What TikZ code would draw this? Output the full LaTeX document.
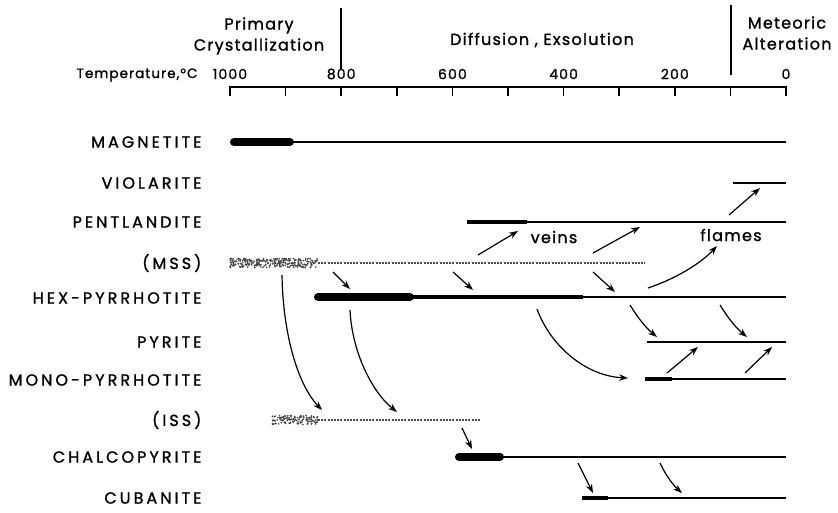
\documentclass[tikz,border=0pt]{standalone}
\usepackage{fontspec}
\setmainfont{Poppins}
\newfontfamily\capsfont{Poppins}[LetterSpace=19, FakeBold=1.2]
\newfontfamily\wordfont{Poppins}[LetterSpace=8, FakeBold=1.2]
\usetikzlibrary{arrows.meta}

\tikzset{
  thinbar/.style={line width=1.8pt},
  midbar/.style={line width=4.5pt},
  thickbar/.style={line width=8pt, line cap=round},
  dotbar/.style={line width=1.4pt, gray!60!black, dash pattern=on 2pt off 1.2pt},
  mover/.style={-{Stealth[length=9pt,width=6.5pt]}, line width=1.2pt},
  mineral/.style={anchor=east, font=\capsfont\fontsize{16}{16}\selectfont},
  head/.style={align=center, font=\wordfont\fontsize{16}{21}\selectfont},
  tlab/.style={font=\wordfont\fontsize{14}{14}\selectfont},
}

\begin{document}
\begin{tikzpicture}[x=1pt,y=-1pt]
\useasboundingbox (0,0) rectangle (838,513);

% temperature axis
\draw[line width=1.8pt] (230,87) -- (786,87);
\foreach \t in {0,100,...,1000}{
  \draw[line width=1.5pt] ({786-0.556*\t},86) -- ({786-0.556*\t},96);
}
\foreach \t in {0,200,...,1000}{
  \node[tlab] (t\t) at ({786-0.556*\t},74) {\t};
}
\node[anchor=east, font=\wordfont\fontsize{13.5}{14}\selectfont] (tname) at (201,75) {Temperature,°C};

% stages
\draw[line width=1.5pt] (341,8) -- (341,70);
\draw[line width=1.5pt] (731,5) -- (731,75);
\node[head] (primary) at (259,36) {Primary\\Crystallization};
\node[head] (diffusion) at (542,40) {Diffusion , Exsolution};
\node[head] (meteoric) at (787,33) {Meteoric\\Alteration};

% minerals
\node[mineral] (magnetite) at (205,142) {MAGNETITE};
\node[mineral] (violarite) at (205,183) {VIOLARITE};
\node[mineral] (pentlandite) at (205,222) {PENTLANDITE};
\node[mineral] (mss) at (205,263) {(MSS)};
\node[mineral] (hexpo) at (205,298) {HEX-PYRRHOTITE};
\node[mineral] (pyrite) at (205,342) {PYRITE};
\node[mineral] (monopo) at (205,380) {MONO-PYRRHOTITE};
\node[mineral] (iss) at (205,420) {(ISS)};
\node[mineral] (chalco) at (205,457) {CHALCOPYRITE};
\node[mineral] (cubanite) at (205,498) {CUBANITE};

% stability ranges
\draw[thickbar] (234,142) -- (290,142);
\draw[thinbar] (290,142) -- (786,142);
\draw[thinbar] (733,183) -- (786,183);
\draw[midbar] (467,222) -- (527,222);
\draw[thinbar] (527,222) -- (786,222);
\draw[thickbar] (318,297) -- (410,297);
\draw[midbar] (410,297) -- (583,297);
\draw[thinbar] (583,297) -- (786,297);
\draw[thinbar] (647,342) -- (786,342);
\draw[midbar] (645,379) -- (672,379);
\draw[thinbar] (672,379) -- (786,379);
\draw[thickbar] (459,457) -- (500,457);
\draw[thinbar] (500,457) -- (786,457);
\draw[midbar] (582,498) -- (608,498);
\draw[thinbar] (608,498) -- (786,498);

% solid solutions (stippled)
\pgfmathsetseed{11}
\foreach \i in {1,...,300}{
  \pgfmathsetmacro\dx{230+88*rnd}
  \pgfmathsetmacro\dy{263+9*(rnd-0.5)}
  \fill[gray!50!black] (\dx,\dy) circle (0.9pt);
}
\draw[dotbar] (318,263) -- (645,263);
\foreach \i in {1,...,130}{
  \pgfmathsetmacro\dx{272+46*rnd}
  \pgfmathsetmacro\dy{420+9*(rnd-0.5)}
  \fill[gray!50!black] (\dx,\dy) circle (0.9pt);
}
\draw[dotbar] (318,420) -- (480,420);

% reaction arrows
\coordinate (v1a) at (478,255); \coordinate (v1b) at (518,231);
\coordinate (v2a) at (593,253); \coordinate (v2b) at (640,227);
\coordinate (vla) at (729,215); \coordinate (vlb) at (760,188);
\coordinate (fla) at (648,288); \coordinate (flb) at (717,246);
\coordinate (h1a) at (333,272); \coordinate (h1b) at (350,289);
\coordinate (h2a) at (453,272); \coordinate (h2b) at (473,290);
\coordinate (h3a) at (593,272); \coordinate (h3b) at (615,292);
\coordinate (p1a) at (630,305); \coordinate (p1b) at (657,337);
\coordinate (p2a) at (720,305); \coordinate (p2b) at (747,337);
\coordinate (q1a) at (667,373); \coordinate (q1b) at (698,347);
\coordinate (q2a) at (745,373); \coordinate (q2b) at (772,347);
\coordinate (mpa) at (537,309); \coordinate (mpb) at (628,378);
\coordinate (i1a) at (282,275); \coordinate (i1b) at (322,410);
\coordinate (i2a) at (350,310); \coordinate (i2b) at (397,412);
\coordinate (cpa) at (462,428); \coordinate (cpb) at (472,449);
\coordinate (c1a) at (578,463); \coordinate (c1b) at (593,493);
\coordinate (c2a) at (660,463); \coordinate (c2b) at (682,493);

\draw[mover] (v1a) -- (v1b);
\draw[mover] (v2a) -- (v2b);
\draw[mover] (vla) -- (vlb);
\draw[mover] (fla) .. controls (675,279) and (700,264) .. (flb);
\draw[mover] (h1a) -- (h1b);
\draw[mover] (h2a) -- (h2b);
\draw[mover] (h3a) -- (h3b);
\draw[mover] (p1a) .. controls (638,318) and (646,328) .. (p1b);
\draw[mover] (p2a) .. controls (728,318) and (736,328) .. (p2b);
\draw[mover] (q1a) -- (q1b);
\draw[mover] (q2a) -- (q2b);
\draw[mover] (mpa) .. controls (550,345) and (585,376) .. (mpb);
\draw[mover] (i1a) .. controls (283,335) and (298,385) .. (i1b);
\draw[mover] (i2a) .. controls (352,352) and (372,392) .. (i2b);
\draw[mover] (cpa) -- (cpb);
\draw[mover] (c1a) -- (c1b);
\draw[mover] (c2a) .. controls (666,476) and (674,486) .. (c2b);

\node[head] (veins) at (554,237) {veins};
\node[head] (flames) at (731,235) {flames};
\end{tikzpicture}
\end{document}
